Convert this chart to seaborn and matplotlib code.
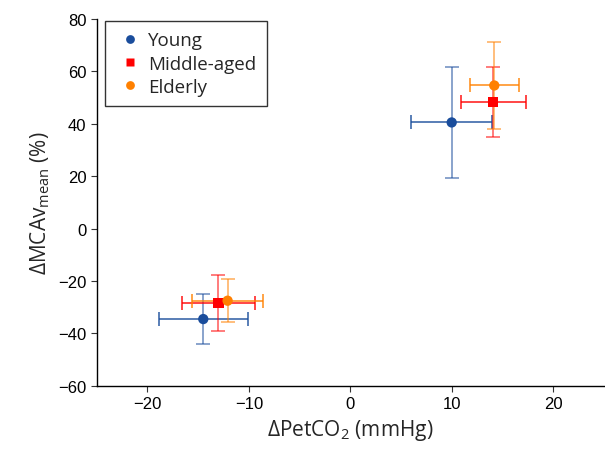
import pandas as pd
import numpy as np
import seaborn as sns
import matplotlib.pyplot as plt

groups = ["Young", "Middle-aged", "Elderly"]
colors = ["#1a4d9c", "#ff0000", "#ff8000"]
markers = ["o", "s", "o"]

# two conditions per group: hypocapnia (low) and hypercapnia (high)
x_mean = {"Young": [-14.5, 10.0], "Middle-aged": [-13.0, 14.1], "Elderly": [-12.1, 14.2]}
x_err = {"Young": [4.4, 4.0], "Middle-aged": [3.6, 3.2], "Elderly": [3.5, 2.4]}
y_mean = {"Young": [-34.5, 40.5], "Middle-aged": [-28.5, 48.2], "Elderly": [-27.5, 54.6]}
y_err = {"Young": [9.5, 21.3], "Middle-aged": [10.7, 13.4], "Elderly": [8.2, 16.7]}

rows = []
for g in groups:
    for i in range(2):
        rows.append({"group": g, "x": x_mean[g][i], "y": y_mean[g][i],
                     "xe": x_err[g][i], "ye": y_err[g][i]})
df = pd.DataFrame(rows)

sns.set_style("ticks")
plt.rcParams["font.family"] = ["Liberation Sans", "DejaVu Sans"]
plt.rcParams["mathtext.fontset"] = "custom"
plt.rcParams["mathtext.rm"] = "Open Sans"
plt.rcParams["mathtext.it"] = "Open Sans"

fig = plt.figure(figsize=(6.05, 4.52), dpi=100)
ax = fig.add_axes([0.160, 0.144, 0.838, 0.812])

for g, c in zip(groups, colors):
    sub = df[df["group"] == g]
    ax.errorbar(sub["x"], sub["y"], yerr=sub["ye"], fmt="none", ecolor=c,
                alpha=0.6, elinewidth=1.2, capsize=5, capthick=1.2, zorder=2)
    ax.errorbar(sub["x"], sub["y"], xerr=sub["xe"], fmt="none", ecolor=c,
                alpha=0.85, elinewidth=1.2, capsize=5, capthick=1.2, zorder=2)

sns.scatterplot(data=df, x="x", y="y", hue="group", style="group",
                hue_order=groups, style_order=groups,
                palette=dict(zip(groups, colors)),
                markers=dict(zip(groups, markers)),
                s=55, edgecolor="none", ax=ax, zorder=3)

ax.set_xlim(-25, 25)
ax.set_ylim(-60, 80)
ax.set_xticks([-20, -10, 0, 10, 20])
ax.set_yticks(np.arange(-60, 81, 20))
ax.tick_params(labelsize=12, length=4, width=0.8, colors="#333333", labelcolor="black")
for s in ["left", "bottom"]:
    ax.spines[s].set_color("black")
    ax.spines[s].set_linewidth(1.0)
sns.despine(ax=ax)

lab_font = ["Open Sans", "DejaVu Sans"]
ax.set_xlabel(r"ΔPetCO$_\mathregular{2}$ (mmHg)", fontsize=15, family=lab_font)
ax.set_ylabel(r"ΔMCAv$_\mathregular{mean}$ (%)", fontsize=15, family=lab_font)

handles, labels = ax.get_legend_handles_labels()
leg = ax.legend(handles, labels, loc="upper left",
                bbox_to_anchor=(105 / 605, 1 - 22 / 452), bbox_transform=fig.transFigure,
                borderaxespad=0, frameon=True, fancybox=False, edgecolor="black",
                handlelength=1.6, handletextpad=0.15, borderpad=0.55,
                labelspacing=0.28, markerscale=0.85,
                prop={"family": lab_font, "size": 13.5})
leg.get_frame().set_linewidth(1.0)

fig.savefig("out.png", dpi=100)
plt.close(fig)
